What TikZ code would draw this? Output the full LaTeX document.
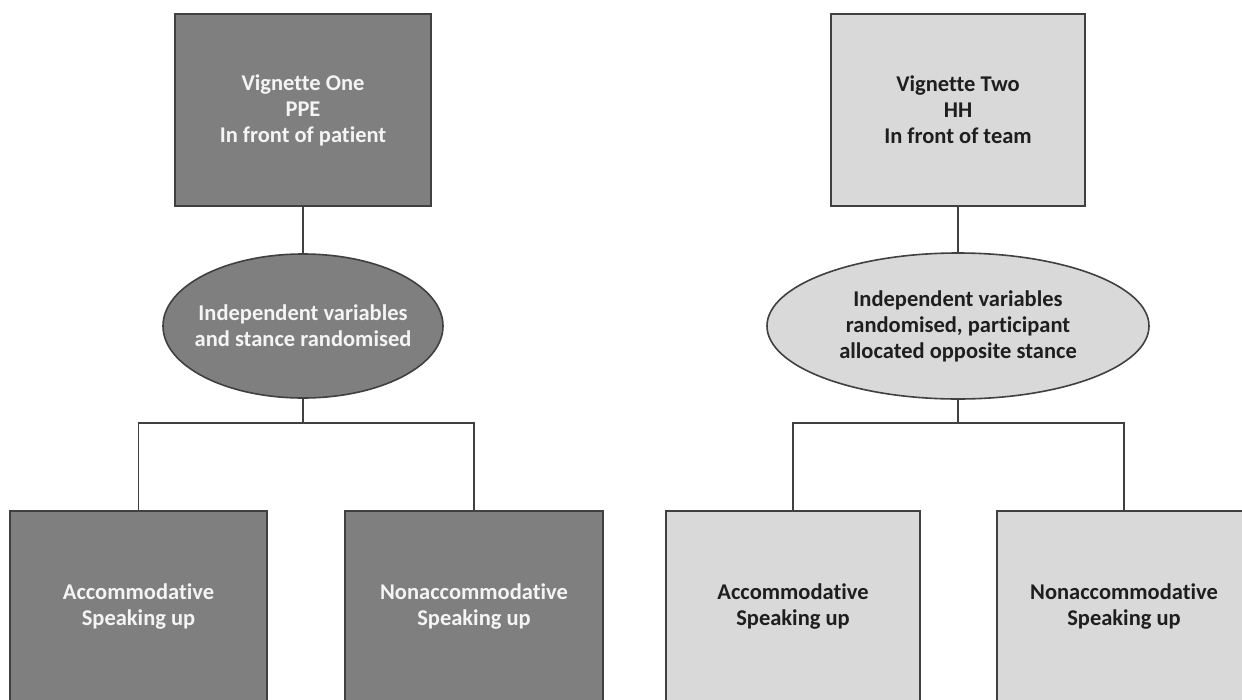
\documentclass[tikz,border=0pt]{standalone}
\usepackage{fontspec}
\setmainfont[Ligatures=NoCommon]{Carlito}
\usetikzlibrary{shapes.geometric}
\definecolor{darkfill}{HTML}{7F7F7F}
\definecolor{lightfill}{HTML}{D9D9D9}
\definecolor{edge}{HTML}{404040}
\definecolor{darktext}{HTML}{F4F4F4}
\definecolor{lighttext}{HTML}{1E1E1E}
\tikzset{
  every node/.style={font=\fontsize{22.5}{26}\selectfont\bfseries, align=center, inner sep=0pt, outer sep=0pt},
  box/.style={draw=edge, line width=1.8pt, rectangle},
  % negative inner sep keeps the ellipse at its minimum size
  oval/.style={draw=edge, line width=1.6pt, ellipse, inner xsep=-70pt, inner ysep=-20pt},
  dark/.style={fill=darkfill, text=darktext},
  light/.style={fill=lightfill, text=lighttext},
  link/.style={draw=edge, line width=1.6pt},
}
\begin{document}
\begin{tikzpicture}[x=1pt, y=-1pt]
\useasboundingbox (0,0) rectangle (1242,699);
\fill[white] (0,0) rectangle (1242,699);
\begin{scope}
\clip (0,0) rectangle (1242,699);

% Left branch: vignette one
\node[box, dark, minimum width=256pt, minimum height=192pt] (v1) at (303,110)
  {Vignette One\\PPE\\In front of patient};
\node[oval, dark, minimum width=280pt, minimum height=144pt] (e1) at (303,326)
  {Independent variables\\and stance randomised};
\node[box, dark, minimum width=257pt, minimum height=191pt] (a1) at (138.5,606.5)
  {Accommodative\\Speaking up};
\node[box, dark, minimum width=258pt, minimum height=191pt] (n1) at (474,606.5)
  {Nonaccommodative\\Speaking up};

% Right branch: vignette two
\node[box, light, minimum width=254pt, minimum height=192pt] (v2) at (958,110)
  {Vignette Two\\HH\\In front of team};
\node[oval, light, minimum width=382pt, minimum height=146pt] (e2) at (958,326)
  {Independent variables\\randomised, participant\\allocated opposite stance};
\node[box, light, minimum width=254pt, minimum height=191pt] (a2) at (793,606.5)
  {Accommodative\\Speaking up};
\node[box, light, minimum width=254pt, minimum height=191pt] (n2) at (1124,606.5)
  {Nonaccommodative\\Speaking up};

% Junctions on the horizontal buses
\coordinate (j1) at (303,423);
\coordinate (j2) at (958,423);

% Connectors
\draw[link] (v1.south) -- (e1.north);
\draw[link] (e1.south) -- (j1);
\draw[link] (a1.north) |- (j1);
\draw[link] (n1.north) |- (j1);

\draw[link] (v2.south) -- (e2.north);
\draw[link] (e2.south) -- (j2);
\draw[link] (a2.north) |- (j2);
\draw[link] (n2.north) |- (j2);
\end{scope}
\end{tikzpicture}
\end{document}
